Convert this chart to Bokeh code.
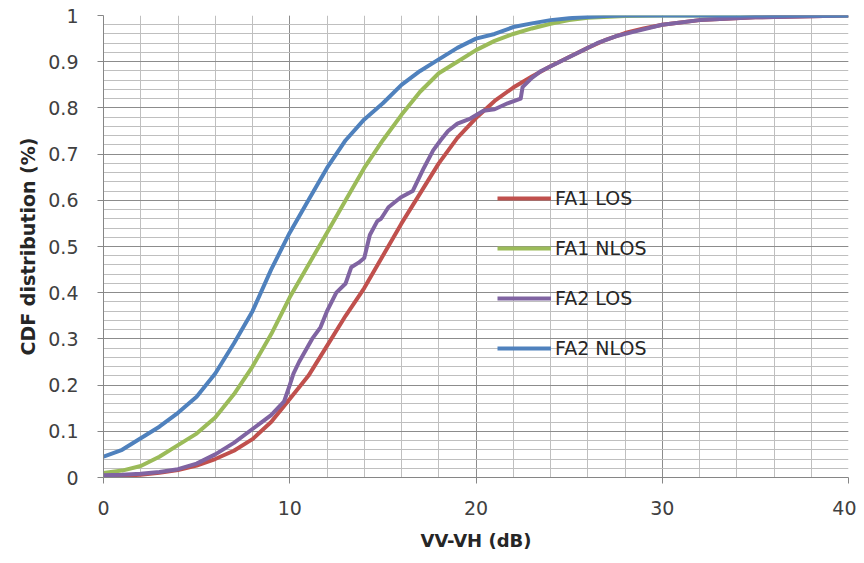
from bokeh.plotting import figure
from bokeh.models import SingleIntervalTicker, FixedTicker, CustomJSTickFormatter, Range1d
from bokeh.embed import file_html
from bokeh.resources import INLINE
import numpy as np

# ---- data ----
fa1_los_x = [0, 1, 2, 3, 4, 5, 6, 7, 8, 9, 10, 11, 12, 13, 14, 15, 16, 17, 18, 19, 20, 21, 22, 23, 24, 25, 26, 27, 28, 29, 30, 32, 35, 40]
fa1_los_y = [0.003, 0.004, 0.006, 0.01, 0.016, 0.026, 0.04, 0.058, 0.083, 0.12, 0.17, 0.22, 0.285, 0.35, 0.41, 0.48, 0.55, 0.615, 0.68, 0.735, 0.778, 0.815, 0.844, 0.868, 0.89, 0.91, 0.93, 0.948, 0.962, 0.972, 0.98, 0.99, 0.996, 1.0]

fa1_nlos_x = [0, 1, 2, 3, 4, 5, 6, 7, 8, 9, 10, 11, 12, 13, 14, 15, 16, 17, 18, 19, 20, 21, 22, 23, 24, 25, 26, 28, 30, 40]
fa1_nlos_y = [0.01, 0.015, 0.025, 0.045, 0.07, 0.095, 0.13, 0.18, 0.24, 0.31, 0.39, 0.46, 0.53, 0.6, 0.67, 0.73, 0.785, 0.835, 0.875, 0.9, 0.925, 0.945, 0.96, 0.972, 0.982, 0.99, 0.995, 0.999, 1.0, 1.0]

fa2_los_x = [0, 1, 2, 3, 4, 5, 6, 7, 8, 8.5, 9, 9.7, 10, 10.2, 10.5, 10.85, 11.2, 11.65, 12, 12.5, 13, 13.3, 13.7, 14, 14.3, 14.7, 14.9, 15.3, 15.95, 16.6, 17.2, 17.7, 18.1, 18.5, 19.0, 19.7, 20.4, 21.0, 21.7, 22.4, 22.5, 23, 23.5, 24.5, 25.5, 26.5, 27.5, 28.5, 30, 32, 35, 40]
fa2_los_y = [0.005, 0.006, 0.008, 0.012, 0.018, 0.03, 0.05, 0.075, 0.105, 0.12, 0.135, 0.165, 0.2, 0.225, 0.25, 0.275, 0.3, 0.325, 0.36, 0.4, 0.42, 0.455, 0.465, 0.475, 0.525, 0.555, 0.56, 0.585, 0.606, 0.62, 0.67, 0.708, 0.73, 0.75, 0.766, 0.777, 0.794, 0.797, 0.81, 0.82, 0.845, 0.865, 0.88, 0.9, 0.92, 0.94, 0.955, 0.965, 0.98, 0.99, 0.996, 1.0]

fa2_nlos_x = [0, 1, 2, 3, 4, 5, 6, 7, 8, 9, 10, 11, 12, 13, 14, 15, 16, 17, 18, 19, 20, 21, 22, 23, 24, 25, 26, 27, 28, 30, 35, 40]
fa2_nlos_y = [0.045, 0.06, 0.085, 0.11, 0.14, 0.175, 0.225, 0.29, 0.36, 0.45, 0.53, 0.6, 0.67, 0.73, 0.775, 0.81, 0.85, 0.88, 0.905, 0.93, 0.95, 0.96, 0.975, 0.983, 0.99, 0.994, 0.997, 0.999, 1.0, 1.0, 1.0, 1.0]

series = [
    ("FA1 LOS", fa1_los_x, fa1_los_y, "#C0504D"),
    ("FA1 NLOS", fa1_nlos_x, fa1_nlos_y, "#9BBB59"),
    ("FA2 LOS", fa2_los_x, fa2_los_y, "#8064A2"),
    ("FA2 NLOS", fa2_nlos_x, fa2_nlos_y, "#4F81BD"),
]

y_ticks = [0, 0.1, 0.2, 0.3, 0.4, 0.5, 0.6, 0.7, 0.8, 0.9, 1.0]

FONT = "DejaVu Sans"

p = figure(width=856, height=555, output_backend="svg", toolbar_location=None,
           x_range=Range1d(0, 40), y_range=Range1d(0, 1),
           min_border_left=103, min_border_right=8, min_border_top=15, min_border_bottom=78,
           x_axis_label="VV-VH (dB)", y_axis_label="CDF distribution (%)")
p.outline_line_color = None
p.background_fill_color = "white"

for name, xs, ys, col in series:
    p.line(xs, ys, line_color=col, line_width=4, line_join="round", legend_label=name)

p.xaxis.ticker = SingleIntervalTicker(interval=10, num_minor_ticks=5)
p.yaxis.ticker = FixedTicker(ticks=y_ticks, minor_ticks=list(np.round(np.arange(0, 1.0001, 0.02), 2)))
p.yaxis.formatter = CustomJSTickFormatter(code="return String(Math.round(tick*10)/10);")

for ax in (p.xaxis, p.yaxis):
    ax.axis_line_color = "#868686"
    ax.major_tick_line_color = "#868686"
    ax.major_tick_out = 6
    ax.major_tick_in = 0
    ax.minor_tick_line_color = None
    ax.major_label_text_font = FONT
    ax.major_label_text_font_size = "19px"
    ax.major_label_text_color = "#404040"
    ax.axis_label_text_font = FONT
    ax.axis_label_text_font_style = "bold"
    ax.axis_label_text_color = "#262626"

p.xaxis.axis_label_text_font_size = "18px"
p.yaxis.axis_label_text_font_size = "19px"
p.xaxis.major_label_standoff = 17
p.yaxis.major_label_standoff = 19
p.xaxis.axis_label_standoff = 12
p.yaxis.axis_label_standoff = 6

for g in (p.xgrid, p.ygrid):
    g.grid_line_color = "#8c8c8c"
    g.grid_line_width = 1
    g.minor_grid_line_color = "#bfbfbf"
    g.minor_grid_line_width = 1

leg = p.legend[0]
leg.location = (394, 117)
leg.padding = 0
leg.margin = 0
leg.spacing = 26
leg.glyph_width = 54
leg.glyph_height = 24
leg.label_height = 24
leg.label_standoff = 4
leg.border_line_color = None
leg.background_fill_alpha = 0
leg.label_text_font = FONT
leg.label_text_font_size = "19px"
leg.label_text_color = "#262626"

open("out.html", "w").write(file_html(p, INLINE))
